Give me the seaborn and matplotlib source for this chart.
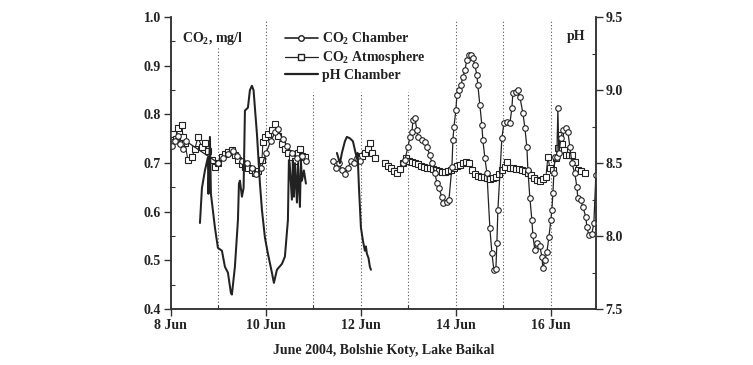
import numpy as np
import pandas as pd
import matplotlib
matplotlib.use("Agg")
import matplotlib.pyplot as plt
from matplotlib.lines import Line2D
from matplotlib.ticker import MultipleLocator, FixedLocator
import seaborn as sns

# ---- data (time in days of June 2004) ----
# CO2 in the chamber, mg/l (three recording periods)
chamber_day_1 = [8.02, 8.08, 8.14, 8.20, 8.26, 8.32, 9.00, 9.10, 9.20, 9.30, 9.40, 9.50,
                 9.60, 9.70, 9.80, 9.90, 10.00, 10.10, 10.20, 10.25, 10.35, 10.45,
                 10.55, 10.65, 10.75, 10.85]
chamber_co2_1 = [0.735, 0.745, 0.755, 0.740, 0.730, 0.745, 0.700, 0.710, 0.718, 0.724,
                 0.715, 0.705, 0.700, 0.690, 0.678, 0.690, 0.720, 0.745, 0.765, 0.770,
                 0.750, 0.735, 0.720, 0.710, 0.715, 0.705]
chamber_day_2 = [11.41, 11.47, 11.54, 11.60, 11.66, 11.73, 11.79, 11.85, 11.92, 11.98]
chamber_co2_2 = [0.705, 0.690, 0.700, 0.685, 0.678, 0.690, 0.705, 0.700, 0.710, 0.705]
chamber_day_3 = [12.884, 12.926, 12.989, 13.032, 13.074, 13.095, 13.137, 13.179, 13.2,
                 13.284, 13.347, 13.389, 13.453, 13.495, 13.558, 13.6, 13.642, 13.705,
                 13.726, 13.811, 13.853, 13.916, 13.937, 13.958, 14.0, 14.021, 14.063,
                 14.105, 14.147, 14.189, 14.232, 14.274, 14.316, 14.358, 14.4, 14.442,
                 14.463, 14.505, 14.547, 14.568, 14.611, 14.653, 14.716, 14.758, 14.8,
                 14.842, 14.863, 14.884, 14.968, 15.011, 15.074, 15.137, 15.179, 15.2,
                 15.263, 15.305, 15.347, 15.411, 15.453, 15.495, 15.516, 15.558, 15.6,
                 15.621, 15.663, 15.705, 15.768, 15.811, 15.832, 15.874, 15.916, 15.958,
                 16.0, 16.021, 16.042, 16.063, 16.084, 16.126, 16.147, 16.168, 16.211,
                 16.253, 16.316, 16.358, 16.4, 16.442, 16.505, 16.547, 16.568, 16.632,
                 16.674, 16.737, 16.758, 16.8, 16.863, 16.905, 16.947]
chamber_co2_3 = [0.700, 0.706, 0.733, 0.753, 0.764, 0.788, 0.792, 0.768, 0.753,
                 0.747, 0.743, 0.733, 0.716, 0.700, 0.680, 0.659, 0.649, 0.630,
                 0.618, 0.620, 0.624, 0.692, 0.747, 0.774, 0.809, 0.840, 0.850,
                 0.860, 0.877, 0.891, 0.912, 0.922, 0.922, 0.916, 0.901, 0.881,
                 0.860, 0.819, 0.778, 0.747, 0.710, 0.680, 0.566, 0.515, 0.480,
                 0.482, 0.536, 0.604, 0.751, 0.782, 0.784, 0.782, 0.813, 0.844,
                 0.846, 0.850, 0.836, 0.803, 0.772, 0.733, 0.686, 0.628, 0.583,
                 0.552, 0.521, 0.536, 0.530, 0.507, 0.484, 0.500, 0.517, 0.548,
                 0.583, 0.604, 0.638, 0.679, 0.712, 0.712, 0.813, 0.720, 0.751,
                 0.768, 0.772, 0.764, 0.733, 0.700, 0.679, 0.651, 0.628, 0.624,
                 0.610, 0.589, 0.568, 0.552, 0.555, 0.577, 0.675]

# CO2 in the atmosphere, mg/l
atm_day_1 = [8.042, 8.105, 8.147, 8.232, 8.253, 8.295, 8.358, 8.442, 8.505, 8.568,
             8.653, 8.716, 8.779, 8.863, 8.926, 8.989, 9.074, 9.137, 9.2, 9.284,
             9.347, 9.411, 9.495, 9.558, 9.621, 9.705, 9.768, 9.832, 9.916, 9.937,
             9.979, 10.042, 10.126, 10.189, 10.253, 10.337, 10.4, 10.463, 10.547,
             10.611, 10.674, 10.716, 10.758, 10.821]
atm_co2_1 = [0.760, 0.750, 0.772, 0.778, 0.753, 0.741, 0.706, 0.712, 0.730, 0.753,
             0.733, 0.741, 0.725, 0.706, 0.692, 0.700, 0.712, 0.718, 0.723, 0.727,
             0.716, 0.706, 0.698, 0.692, 0.690, 0.686, 0.680, 0.684, 0.706, 0.743,
             0.753, 0.760, 0.768, 0.780, 0.755, 0.740, 0.730, 0.720, 0.712,
             0.705, 0.720, 0.730, 0.715, 0.712]
atm_day_2 = [12.021, 12.084, 12.147, 12.189, 12.232, 12.295]
atm_co2_2 = [0.715, 0.720, 0.730, 0.742, 0.720, 0.710]
atm_day_3 = [12.505, 12.568, 12.632, 12.695, 12.758, 12.821, 12.884, 12.947, 13.011,
             13.074, 13.137, 13.2, 13.263, 13.326, 13.389, 13.453, 13.516, 13.579,
             13.642, 13.705, 13.768, 13.832, 13.895, 13.958, 14.021, 14.084, 14.147,
             14.211, 14.274, 14.337, 14.4, 14.463, 14.526, 14.589, 14.653, 14.716,
             14.779, 14.842, 14.905, 14.968, 15.032, 15.074, 15.137, 15.2, 15.263,
             15.326, 15.389, 15.453, 15.516, 15.579, 15.642, 15.705, 15.768, 15.832,
             15.895, 15.937, 15.979, 16.042, 16.105, 16.147, 16.189, 16.232, 16.274,
             16.316, 16.379, 16.442, 16.505, 16.568, 16.632, 16.716]
atm_co2_3 = [0.700, 0.695, 0.690, 0.683, 0.680, 0.688, 0.700, 0.710, 0.705,
             0.702, 0.700, 0.698, 0.695, 0.692, 0.690, 0.690, 0.688, 0.686,
             0.684, 0.682, 0.682, 0.684, 0.686, 0.690, 0.694, 0.697, 0.700,
             0.703, 0.700, 0.685, 0.678, 0.674, 0.672, 0.671, 0.669, 0.668,
             0.670, 0.672, 0.678, 0.685, 0.692, 0.702, 0.690, 0.690, 0.688,
             0.688, 0.686, 0.684, 0.680, 0.676, 0.670, 0.665, 0.664, 0.667,
             0.672, 0.712, 0.690, 0.685, 0.710, 0.731, 0.757, 0.740, 0.728,
             0.716, 0.716, 0.716, 0.702, 0.686, 0.684, 0.680]

# pH in the chamber
ph_day_1 = [8.611, 8.653, 8.716, 8.779, 8.790, 8.821, 8.842, 8.926, 8.989, 9.074,
            9.137, 9.2, 9.263, 9.284, 9.347, 9.411, 9.432, 9.453, 9.495, 9.53,
            9.558, 9.621, 9.663, 9.705, 9.74, 9.768, 9.811, 9.874, 9.916, 9.979,
            10.042, 10.126, 10.168, 10.232, 10.337, 10.4, 10.463, 10.484, 10.5,
            10.547, 10.568, 10.589, 10.611, 10.653, 10.674, 10.716, 10.737,
            10.758, 10.8, 10.842]
ph_val_1 = [8.09, 8.33, 8.45, 8.54, 8.29, 8.68, 8.29, 8.06, 7.92, 7.90,
            7.79, 7.75, 7.61, 7.60, 7.79, 8.11, 8.36, 8.38, 8.27, 8.33,
            8.86, 8.88, 9.00, 9.03, 9.00, 8.88, 8.70, 8.36, 8.18, 7.99,
            7.88, 7.75, 7.68, 7.77, 7.81, 7.86, 8.11, 8.52, 8.50,
            8.25, 8.52, 8.27, 8.50, 8.23, 8.50, 8.20, 8.52,
            8.38, 8.45, 8.36]
ph_day_2 = [11.495, 11.53, 11.558, 11.60, 11.663, 11.705, 11.768, 11.832, 11.874,
            11.916, 11.93, 11.958, 12.0, 12.042, 12.084, 12.105, 12.126, 12.16,
            12.189, 12.211]
ph_val_2 = [8.57, 8.53, 8.50, 8.57, 8.65, 8.68, 8.67, 8.65, 8.59,
            8.53, 8.57, 8.34, 8.06, 7.97, 7.90, 7.93, 7.88, 7.85,
            7.79, 7.77]

# dotted day separators and the height (axes fraction) they reach
sep_days = [9, 10, 11, 12, 13, 14, 15, 16]
sep_tops = [0.897, 0.99, 0.743, 0.743, 0.743, 0.99, 0.99, 0.99]

tick_days = [8, 10, 12, 14, 16]
tick_labels = ["8 Jun", "10 Jun", "12 Jun", "14 Jun", "16 Jun"]


def frame(days_list, vals_list, name):
    parts = []
    for i, (d, v) in enumerate(zip(days_list, vals_list)):
        parts.append(pd.DataFrame({"day": d, name: v, "segment": i}))
    return pd.concat(parts, ignore_index=True)


chamber = frame([chamber_day_1, chamber_day_2, chamber_day_3],
                [chamber_co2_1, chamber_co2_2, chamber_co2_3], "co2")
atmosphere = frame([atm_day_1, atm_day_2, atm_day_3],
                   [atm_co2_1, atm_co2_2, atm_co2_3], "co2")
ph = frame([ph_day_1, ph_day_2], [ph_val_1, ph_val_2], "ph")

sns.set_style("ticks")
plt.rcParams["font.family"] = ["Liberation Serif", "DejaVu Serif"]
plt.rcParams["font.weight"] = "bold"
plt.rcParams["mathtext.default"] = "regular"

fig = plt.figure(figsize=(7.53, 3.65), dpi=100, facecolor="white")
ax = fig.add_axes([0.227, 0.153, 0.5645, 0.800])
ax2 = ax.twinx()

ink = "#222222"
for d, top in zip(sep_days, sep_tops):
    ax.axvline(d, ymin=0, ymax=top, color="#555555", ls=(0, (1, 2)), lw=0.8, zorder=0)

sns.lineplot(data=atmosphere, x="day", y="co2", units="segment", estimator=None,
             ax=ax, color=ink, lw=0.8, marker="s", markersize=4,
             markerfacecolor="white", markeredgecolor=ink, markeredgewidth=0.8,
             zorder=3)
sns.lineplot(data=chamber, x="day", y="co2", units="segment", estimator=None,
             ax=ax, color=ink, lw=0.9, marker="o", markersize=4,
             markerfacecolor="white", markeredgecolor=ink, markeredgewidth=0.8,
             zorder=4)
sns.lineplot(data=ph, x="day", y="ph", units="segment", estimator=None,
             ax=ax2, color=ink, lw=1.45, zorder=5)

ax.set_xlim(8, 16.95)
ax.set_ylim(0.4, 1.0)
ax2.set_ylim(7.5, 9.5)

ax.xaxis.set_major_locator(FixedLocator(tick_days))
ax.set_xticklabels(tick_labels)
ax.xaxis.set_minor_locator(FixedLocator([9, 11, 13, 15]))
ax.yaxis.set_major_locator(MultipleLocator(0.1))
ax.yaxis.set_minor_locator(MultipleLocator(0.05))
ax.yaxis.set_major_formatter(plt.FuncFormatter(lambda v, p: f"{v:.1f}"))
ax2.yaxis.set_major_locator(MultipleLocator(0.5))
ax2.yaxis.set_minor_locator(MultipleLocator(0.25))
ax2.yaxis.set_major_formatter(plt.FuncFormatter(lambda v, p: f"{v:.1f}"))

for a in (ax, ax2):
    a.set_xlabel("")
    a.set_ylabel("")
    a.spines["top"].set_visible(False)
    for s in ("left", "right", "bottom"):
        a.spines[s].set_color("#333333")
        a.spines[s].set_linewidth(1.1)
    a.tick_params(which="major", direction="out", length=5, width=1.0,
                  color="#333333", labelsize=10, labelcolor=ink, pad=2)
    a.tick_params(which="minor", direction="in", length=3, width=0.8, color="#333333")
    for lab in a.get_xticklabels() + a.get_yticklabels():
        lab.set_fontweight("bold")
ax.set_facecolor("none")

ax.set_xlabel("June 2004, Bolshie Koty, Lake Baikal", fontsize=10,
              fontweight="bold", color=ink, labelpad=9)

ax.text(0.025, 0.955, "CO$_2$, mg/l", transform=ax.transAxes, fontsize=10,
        fontweight="bold", color=ink, va="top", ha="left")
ax.text(0.975, 0.955, "pH", transform=ax.transAxes, fontsize=10,
        fontweight="bold", color=ink, va="top", ha="right")

handles = [
    Line2D([], [], color=ink, lw=1.2, marker="o", markersize=4,
           markerfacecolor="white", markeredgecolor=ink),
    Line2D([], [], color=ink, lw=0.9, marker="s", markersize=4,
           markerfacecolor="white", markeredgecolor=ink),
    Line2D([], [], color=ink, lw=1.6),
]
labels = ["CO$_2$ Chamber", "CO$_2$ Atmosphere", "pH Chamber"]
leg = ax2.legend(handles, labels, loc="upper left", bbox_to_anchor=(0.245, 0.985),
                 frameon=False, fontsize=10, handlelength=2.4, handletextpad=0.3,
                 labelspacing=0.15, borderaxespad=0.3)
for t in leg.get_texts():
    t.set_fontweight("bold")
    t.set_color(ink)

fig.savefig("out.png", dpi=100, facecolor="white")
